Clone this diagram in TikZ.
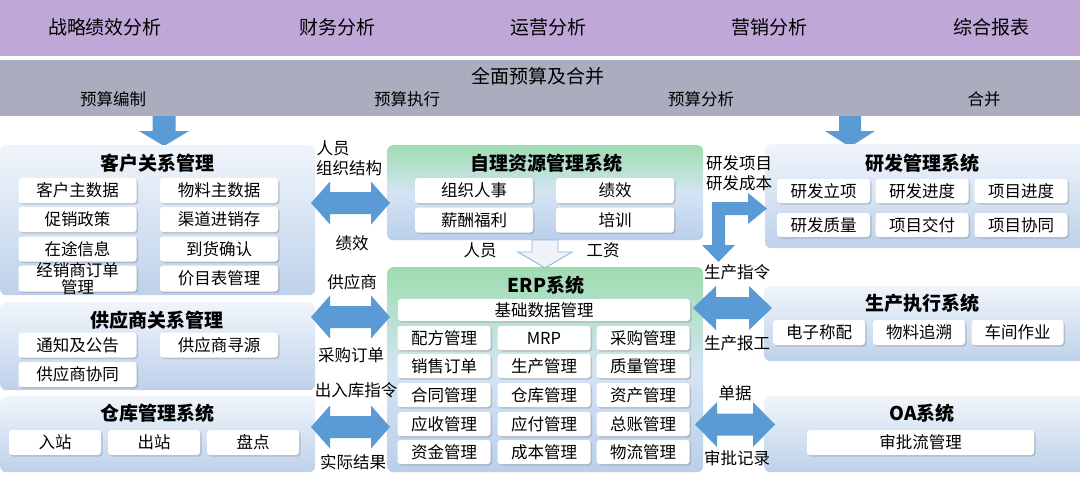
\documentclass[tikz,border=0pt]{standalone}
\usepackage{fontspec}
\setmainfont{Noto Sans CJK SC}
\usetikzlibrary{shadows}
\definecolor{purp}{RGB}{191,168,216}
\definecolor{grayband}{RGB}{171,173,190}
\definecolor{arr}{RGB}{91,155,213}
\definecolor{pltop}{RGB}{240,245,251}
\definecolor{plbot}{RGB}{190,209,234}
\definecolor{grtop}{RGB}{158,220,176}
\definecolor{grmid}{RGB}{212,228,244}
\definecolor{grbot}{RGB}{186,207,234}
\definecolor{hollowfill}{RGB}{240,242,246}
\definecolor{hollowline}{RGB}{141,180,226}
\newcommand\fsbox{\fontsize{16.5}{17.5}\selectfont}
\newcommand\fstitle{\fontsize{19}{21}\selectfont\bfseries}
\newcommand\fstop{\fontsize{19}{21}\selectfont}
\newcommand\dblarr[6]{\fill[arr] (#1,#3) -- ({#1+#6},{#3-#5}) -- ({#1+#6},{#3-#4}) -- ({#2-#6},{#3-#4}) -- ({#2-#6},{#3-#5}) -- (#2,#3) -- ({#2-#6},{#3+#5}) -- ({#2-#6},{#3+#4}) -- ({#1+#6},{#3+#4}) -- ({#1+#6},{#3+#5}) -- cycle;}
\tikzset{
  panelblue/.style={anchor=north west, inner sep=0pt, rounded corners=6pt, top color=pltop, bottom color=plbot},
  panelgreen/.style={anchor=north west, inner sep=0pt, rounded corners=6pt, top color=grtop, bottom color=grbot, middle color=grmid},
  item/.style={fill=white, rounded corners=3pt, inner sep=0pt, font=\fsbox,
    drop shadow={shadow xshift=1.5pt, shadow yshift=-1.5pt, fill=black!50, opacity=0.35}},
  ptitle/.style={font=\fstitle, inner sep=0pt},
  lbl/.style={font=\fsbox, inner sep=0pt},
  toplbl/.style={font=\fstop, inner sep=0pt},
}
\begin{document}
\begin{tikzpicture}[x=1pt,y=-1pt]
\useasboundingbox (0,0) rectangle (1080,482);
% top bands
\fill[purp] (0,0) rectangle (1080,56);
\fill[grayband] (0,60) rectangle (1080,116);
\node[toplbl] (t1) at (105,27) {战略绩效分析};
\node[toplbl] (t2) at (337,27) {财务分析};
\node[toplbl] (t3) at (548,27) {运营分析};
\node[toplbl] (t4) at (769,27) {营销分析};
\node[toplbl] (t5) at (991,27) {综合报表};
\node[toplbl] (g0) at (538,76) {全面预算及合并};
\node[lbl] (g1) at (113,99) {预算编制};
\node[lbl] (g2) at (407,99) {预算执行};
\node[lbl] (g3) at (701,99) {预算分析};
\node[lbl] (g4) at (984,99) {合并};
% down arrows from band
\fill[arr] (152.5,116) -- (175.5,116) -- (175.5,131) -- (189,131) -- (164,146) -- (139,131) -- (152.5,131) -- cycle;
\fill[arr] (839,116) -- (861,116) -- (861,131) -- (875,131) -- (850,147) -- (825,131) -- (839,131) -- cycle;

% ===== left panels =====
\node[panelblue, minimum width=315pt, minimum height=150pt] (crm) at (0,145) {};
\node[ptitle] (crmT) at (157,163) {客户关系管理};
\node[item, minimum width=118pt, minimum height=25pt] (c1) at (77.5,190.5) {客户主数据};
\node[item, minimum width=118pt, minimum height=25pt] (c2) at (219,190.5) {物料主数据};
\node[item, minimum width=118pt, minimum height=25pt] (c3) at (77.5,219.5) {促销政策};
\node[item, minimum width=118pt, minimum height=25pt] (c4) at (219,219.5) {渠道进销存};
\node[item, minimum width=118pt, minimum height=25pt] (c5) at (77.5,249) {在途信息};
\node[item, minimum width=118pt, minimum height=25pt] (c6) at (219,249) {到货确认};
\node[item, minimum width=118pt, minimum height=26pt] (c7) at (77.5,278.5) {};
\node[lbl, align=center] (c7t) at (77.5,278.5) {经销商订单\\管理};
\node[item, minimum width=118pt, minimum height=26pt] (c8) at (219,278.5) {价目表管理};

\node[panelblue, minimum width=315pt, minimum height=88pt] (srm) at (0,302) {};
\node[ptitle] (srmT) at (157,320) {供应商关系管理};
\node[item, minimum width=118pt, minimum height=25pt] (s1) at (77.5,345) {通知及公告};
\node[item, minimum width=118pt, minimum height=25pt] (s2) at (219,345) {供应商寻源};
\node[item, minimum width=118pt, minimum height=25pt] (s3) at (77.5,374.5) {供应商协同};

\node[panelblue, minimum width=315pt, minimum height=76pt] (wms) at (0,396) {};
\node[ptitle] (wmsT) at (157,413) {仓库管理系统};
\node[item, minimum width=92pt, minimum height=25pt] (w1) at (55,442.5) {入站};
\node[item, minimum width=92pt, minimum height=25pt] (w2) at (154,442.5) {出站};
\node[item, minimum width=92pt, minimum height=25pt] (w3) at (253,442.5) {盘点};

% ===== centre panels =====
\node[panelgreen, minimum width=316pt, minimum height=95pt] (hr) at (387,145) {};
\node[ptitle] (hrT) at (546,163) {自理资源管理系统};
\node[item, minimum width=118pt, minimum height=25pt] (h1) at (474,190.5) {组织人事};
\node[item, minimum width=118pt, minimum height=25pt] (h2) at (615,190.5) {绩效};
\node[item, minimum width=118pt, minimum height=25pt] (h3) at (474,220) {薪酬福利};
\node[item, minimum width=118pt, minimum height=25pt] (h4) at (615,220) {培训};

\node[panelgreen, minimum width=316pt, minimum height=205pt] (erp) at (387,267) {};
\node[ptitle] (erpT) at (546,285) {ERP系统};
\node[item, minimum width=292pt, minimum height=22pt] (e0) at (544,310) {基础数据管理};
\foreach \r/\yy/\a/\b/\c in {1/338/配方管理/MRP/采购管理, 2/366/销售订单/生产管理/质量管理, 3/395/合同管理/仓库管理/资产管理, 4/424/应收管理/应付管理/总账管理, 5/452/资金管理/成本管理/物流管理}{
  \node[item, minimum width=93pt, minimum height=24pt] (e\r a) at (444,\yy) {\a};
  \node[item, minimum width=93pt, minimum height=24pt] (e\r b) at (544,\yy) {\b};
  \node[item, minimum width=93pt, minimum height=24pt] (e\r c) at (643,\yy) {\c};
}

% hollow arrow HR -> ERP
\filldraw[fill=hollowfill, draw=hollowline, line width=0.9pt] (532,240) -- (558,240) -- (558,252) -- (572,252) -- (545,268) -- (518,252) -- (532,252) -- cycle;
\node[lbl] (pl1) at (480,250) {人员};
\node[lbl] (pl2) at (603,250) {工资};

% ===== right panels =====
\node[panelblue, minimum width=325pt, minimum height=104pt] (rd) at (765,144) {};
\node[ptitle] (rdT) at (922,163) {研发管理系统};
\node[item, minimum width=93pt, minimum height=24pt] (r1) at (823.5,191) {研发立项};
\node[item, minimum width=93pt, minimum height=24pt] (r2) at (922,191) {研发进度};
\node[item, minimum width=93pt, minimum height=24pt] (r3) at (1021,191) {项目进度};
\node[item, minimum width=93pt, minimum height=24pt] (r4) at (823.5,225) {研发质量};
\node[item, minimum width=93pt, minimum height=24pt] (r5) at (922,225) {项目交付};
\node[item, minimum width=93pt, minimum height=24pt] (r6) at (1021,225) {项目协同};

\node[panelblue, minimum width=326pt, minimum height=75pt] (mes) at (764,286) {};
\node[ptitle] (mesT) at (922,303) {生产执行系统};
\node[item, minimum width=92pt, minimum height=25pt] (m1) at (819,332.5) {电子称配};
\node[item, minimum width=92pt, minimum height=25pt] (m2) at (919,332.5) {物料追溯};
\node[item, minimum width=92pt, minimum height=25pt] (m3) at (1017.5,332.5) {车间作业};

\node[panelblue, minimum width=326pt, minimum height=76pt] (oa) at (764,396) {};
\node[ptitle] (oaT) at (922,413) {OA系统};
\node[item, minimum width=227pt, minimum height=25pt] (o1) at (920.5,442.5) {审批流管理};

% ===== connector arrows =====
\dblarr{311}{390}{203}{11}{21.5}{19}
\dblarr{311}{390}{317}{11}{21.5}{19}
\dblarr{311}{390}{427}{11}{21.5}{19}
\dblarr{693}{772}{308}{11}{22}{23}
\dblarr{695}{775}{424.5}{11}{22.5}{22}
% L-shaped arrow
\fill[arr] (712,202) -- (748,202) -- (748,193) -- (767,208.5) -- (748,224) -- (748,215) -- (725,215) -- (725,245) -- (735,245) -- (718.5,262) -- (702,245) -- (712,245) -- cycle;

% connector labels
\node[lbl] (la1) at (333,148) {人员};
\node[lbl] (la2) at (349,168) {组织结构};
\node[lbl] (la3) at (352,243) {绩效};
\node[lbl] (la4) at (352,282) {供应商};
\node[lbl] (la5) at (351,355) {采购订单};
\node[lbl] (la6) at (356,390) {出入库指令};
\node[lbl] (la7) at (353,462) {实际结果};
\node[lbl] (ra1) at (739,163) {研发项目};
\node[lbl] (ra2) at (739,183) {研发成本};
\node[lbl] (ra3) at (737,272) {生产指令};
\node[lbl] (ra4) at (737,343) {生产报工};
\node[lbl] (ra5) at (735,393) {单据};
\node[lbl] (ra6) at (737,458) {审批记录};
\end{tikzpicture}
\end{document}
